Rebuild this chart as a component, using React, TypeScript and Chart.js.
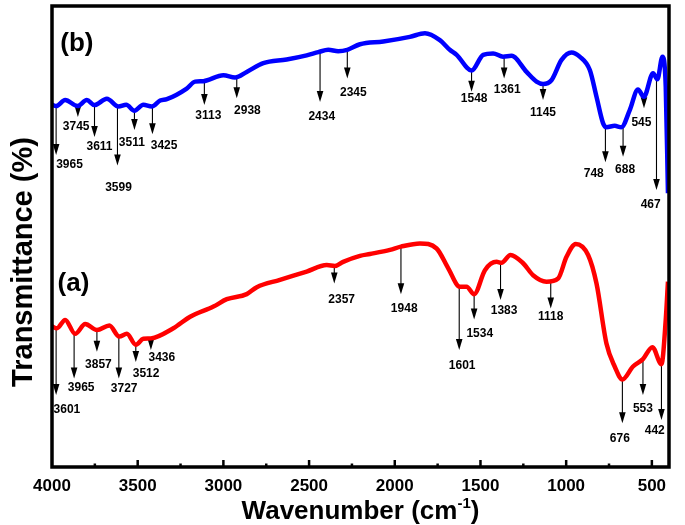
import React, { useEffect, useRef } from "react";
import { Chart, registerables } from "chart.js";

Chart.register(...registerables);

// ---- spectrum (b), blue ----
const bWn = [4000, 3976, 3923, 3851, 3797, 3752, 3680, 3612, 3567, 3519, 3467, 3418, 3369, 3330, 3214, 3165, 3117, 3000, 2932, 2864, 2767, 2631, 2514, 2446, 2388, 2330, 2277, 2203, 2067, 1912, 1824, 1737, 1679, 1639, 1552, 1484, 1426, 1368, 1319, 1231, 1173, 1135, 1086, 1027, 969, 921, 862, 823, 785, 765, 717, 678, 629, 581, 547, 493, 468, 438, 419, 406];
const bT = [78.6, 78.3, 79.6, 78.3, 79.6, 78.5, 79.9, 78.2, 78.6, 77.3, 78.6, 78.2, 79.5, 79.8, 82.1, 83.6, 83.7, 85.0, 84.5, 85.7, 87.6, 88.4, 89.3, 90.0, 90.5, 90.2, 90.5, 91.7, 92.3, 93.3, 94.1, 92.6, 90.5, 89.4, 86.0, 89.4, 89.7, 89.0, 89.2, 85.7, 83.6, 83.1, 83.9, 88.3, 89.9, 89.0, 86.1, 80.3, 74.6, 73.7, 74.0, 73.7, 77.4, 81.9, 80.3, 85.4, 84.1, 89.0, 82.5, 59.4];

// ---- spectrum (a), red ----
const aWn = [4000, 3971, 3923, 3865, 3806, 3738, 3665, 3608, 3563, 3511, 3467, 3423, 3292, 3194, 3058, 2980, 2864, 2805, 2670, 2514, 2397, 2349, 2301, 2203, 2145, 2028, 1964, 1853, 1756, 1688, 1620, 1581, 1537, 1474, 1406, 1377, 1325, 1251, 1193, 1115, 1047, 998, 944, 872, 823, 765, 717, 672, 610, 552, 497, 444, 419, 406];
const aT = [30.5, 30.1, 31.9, 28.9, 31.0, 29.7, 30.7, 28.3, 28.9, 26.5, 27.8, 27.9, 30.1, 32.6, 34.8, 36.4, 37.5, 39.0, 40.6, 42.4, 43.8, 43.6, 44.5, 45.8, 46.2, 47.1, 47.8, 48.5, 47.4, 43.1, 39.1, 39.1, 37.5, 42.7, 44.5, 44.3, 46.0, 44.2, 41.6, 40.2, 40.9, 45.6, 48.4, 46.0, 39.8, 26.8, 21.8, 19.0, 21.8, 23.4, 26.0, 22.3, 31.9, 40.2];

// ---- peak annotations (b) ----
const bPeakText = ["3965", "3745", "3611", "3599", "3511", "3425", "3113", "2938", "2434", "2345", "1548", "1361", "1145", "748", "688", "545", "467"];
const bPeakWn = [3976, 3849, 3752, 3618, 3519, 3414, 3111, 2922, 2436, 2277, 1552, 1362, 1135, 771, 668, 546, 473];
const bPeakFrom = [78.3, 78.3, 78.5, 78.2, 77.3, 78.2, 83.6, 84.5, 90.0, 90.5, 86.0, 89.0, 83.1, 73.7, 73.7, 80.3, 84.1];
const bPeakTo = [67.7, 75.9, 71.6, 65.4, 73.1, 72.2, 78.5, 80.0, 79.2, 84.3, 81.4, 84.3, 79.6, 66.1, 67.3, 77.8, 60.1];
const bLabelWn = [3898, 3859, 3723, 3612, 3534, 3346, 3088, 2860, 2426, 2242, 1537, 1344, 1135, 839, 656, 561, 507];
const bLabelT = [65.5, 73.8, 69.5, 60.5, 70.4, 69.8, 76.2, 77.2, 76.0, 81.1, 79.8, 81.9, 76.9, 63.6, 64.6, 74.7, 57.0];

// ---- peak annotations (a) ----
const aPeakText = ["3601", "3965", "3857", "3727", "3512", "3436", "2357", "1948", "1601", "1534", "1383", "1118", "676", "553", "442"];
const aPeakWn = [3976, 3871, 3738, 3610, 3511, 3423, 2353, 1964, 1624, 1537, 1383, 1090, 672, 552, 444];
const aPeakFrom = [30.1, 28.9, 29.7, 28.3, 26.5, 27.9, 43.6, 47.8, 39.1, 37.5, 44.3, 40.4, 19.0, 23.4, 22.3];
const aPeakTo = [15.6, 19.2, 25.0, 19.2, 22.8, 25.4, 39.8, 37.5, 25.4, 32.0, 36.2, 34.4, 9.5, 15.6, 10.2];
const aLabelWn = [3913, 3830, 3729, 3579, 3451, 3359, 2310, 1945, 1607, 1504, 1362, 1090, 687, 552, 483];
const aLabelT = [12.5, 17.1, 22.1, 16.9, 20.3, 23.8, 36.2, 34.4, 22.0, 29.0, 33.8, 32.5, 6.2, 12.7, 7.8];

// ---- panel tags ----
const tagText = ["(b)", "(a)"];
const tagWn = [3855, 3875];
const tagT = [91.9, 39.8];

// ---- axis ----
const xTicks = [4000, 3500, 3000, 2500, 2000, 1500, 1000, 500];
const xMin = 400;
const xMax = 4000;

const FONT = "'Liberation Sans', Arial, Helvetica, sans-serif";

const annotPlugin = {
  id: "ftirAnnot",
  beforeDatasetsDraw(chart: any) {
    const ctx = chart.ctx;
    const xs = chart.scales.x;
    const ys = chart.scales.y;
    const drawSet = (wn: number[], from: number[], to: number[], txt: string[], lw: number[], lt: number[]) => {
      for (let i = 0; i < wn.length; i++) {
        const x = xs.getPixelForValue(wn[i]);
        const y0 = ys.getPixelForValue(from[i]);
        const y1 = ys.getPixelForValue(to[i]);
        const head = 11;
        ctx.save();
        ctx.strokeStyle = "#000";
        ctx.fillStyle = "#000";
        ctx.lineWidth = 1.1;
        ctx.beginPath();
        ctx.moveTo(x, y0);
        ctx.lineTo(x, y1 - head + 1);
        ctx.stroke();
        ctx.beginPath();
        ctx.moveTo(x - 3.3, y1 - head);
        ctx.lineTo(x + 3.3, y1 - head);
        ctx.lineTo(x, y1);
        ctx.closePath();
        ctx.fill();
        ctx.font = `bold 12px ${FONT}`;
        ctx.textAlign = "center";
        ctx.textBaseline = "middle";
        ctx.fillText(txt[i], xs.getPixelForValue(lw[i]), ys.getPixelForValue(lt[i]));
        ctx.restore();
      }
    };
    drawSet(bPeakWn, bPeakFrom, bPeakTo, bPeakText, bLabelWn, bLabelT);
    drawSet(aPeakWn, aPeakFrom, aPeakTo, aPeakText, aLabelWn, aLabelT);
    ctx.save();
    ctx.fillStyle = "#000";
    ctx.font = `bold 26px ${FONT}`;
    ctx.textAlign = "center";
    ctx.textBaseline = "middle";
    for (let i = 0; i < tagText.length; i++) {
      ctx.fillText(tagText[i], xs.getPixelForValue(tagWn[i]), ys.getPixelForValue(tagT[i]));
    }
    ctx.restore();
  },
  afterDraw(chart: any) {
    const ctx = chart.ctx;
    const a = chart.chartArea;
    const xs = chart.scales.x;
    ctx.save();
    // tick marks pointing inward
    ctx.strokeStyle = "#000";
    ctx.lineWidth = 2.5;
    for (let v = 3750; v >= 450; v -= 250) {
      const major = v % 500 === 0;
      const x = xs.getPixelForValue(v);
      ctx.beginPath();
      ctx.moveTo(x, a.bottom);
      ctx.lineTo(x, a.bottom - (major ? 7 : 3.5));
      ctx.stroke();
    }
    // frame
    ctx.lineWidth = 3.5;
    ctx.strokeRect(a.left, a.top, a.right - a.left, a.bottom - a.top);
    // y title
    ctx.fillStyle = "#000";
    ctx.font = `bold 29px ${FONT}`;
    ctx.textAlign = "center";
    ctx.textBaseline = "middle";
    ctx.translate(24, 262);
    ctx.rotate(-Math.PI / 2);
    ctx.fillText("Transmittance (%)", 0, 0);
    ctx.restore();
    // x title with superscript
    ctx.save();
    ctx.fillStyle = "#000";
    ctx.textBaseline = "alphabetic";
    const main = "Wavenumber (cm";
    const sup = "-1";
    const end = ")";
    ctx.font = `bold 26px ${FONT}`;
    const w1 = ctx.measureText(main).width;
    const w3 = ctx.measureText(end).width;
    ctx.font = `bold 15px ${FONT}`;
    const w2 = ctx.measureText(sup).width;
    const total = w1 + w2 + w3;
    const cx = (a.left + a.right) / 2;
    let x = cx - total / 2;
    const base = 519;
    ctx.font = `bold 26px ${FONT}`;
    ctx.textAlign = "left";
    ctx.fillText(main, x, base);
    x += w1;
    ctx.font = `bold 15px ${FONT}`;
    ctx.fillText(sup, x, base - 11);
    x += w2;
    ctx.font = `bold 26px ${FONT}`;
    ctx.fillText(end, x, base);
    ctx.restore();
  },
};

export default function App() {
  const ref = useRef<HTMLCanvasElement | null>(null);
  useEffect(() => {
    if (!ref.current) return;
    const mk = (wn: number[], t: number[]) => wn.map((w, i) => ({ x: w, y: t[i] }));
    const chart = new Chart(ref.current, {
      type: "line",
      data: {
        datasets: [
          {
            label: "(b)",
            data: mk(bWn, bT),
            borderColor: "#0000ff",
            borderWidth: 4.5,
            pointRadius: 0,
            cubicInterpolationMode: "monotone",
            fill: false,
          },
          {
            label: "(a)",
            data: mk(aWn, aT),
            borderColor: "#ff0000",
            borderWidth: 4.5,
            pointRadius: 0,
            cubicInterpolationMode: "monotone",
            fill: false,
          },
        ],
      },
      options: {
        animation: false,
        responsive: true,
        maintainAspectRatio: false,
        layout: { padding: { top: 6, right: 16, left: 0, bottom: 0 } },
        plugins: { legend: { display: false }, tooltip: { enabled: false } },
        scales: {
          x: {
            type: "linear",
            reverse: true,
            min: xMin,
            max: xMax,
            grid: { display: false },
            border: { display: false },
            afterFit: (s: any) => {
              s.height = 58;
            },
            afterBuildTicks: (s: any) => {
              s.ticks = xTicks.map((v) => ({ value: v }));
            },
            ticks: {
              color: "#000",
              font: { family: FONT, size: 17, weight: "bold" },
              padding: 1,
              maxRotation: 0,
              autoSkip: false,
              callback: (v: any) => String(v),
            },
          },
          y: {
            type: "linear",
            min: 0,
            max: 100,
            grid: { display: false },
            border: { display: false },
            ticks: { display: false },
            afterFit: (s: any) => {
              s.width = 52;
            },
          },
        },
      },
      plugins: [annotPlugin],
    } as any);
    return () => chart.destroy();
  }, []);
  return (
    <div style={{ position: "absolute", left: 0, top: 0, width: 685, height: 525, background: "#fff" }}>
      <canvas ref={ref} />
    </div>
  );
}
